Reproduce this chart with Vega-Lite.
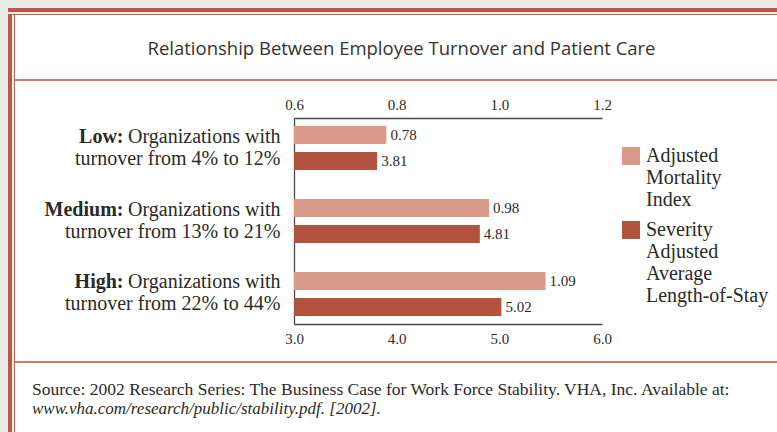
{
  "$schema": "https://vega.github.io/schema/vega-lite/v6.json",
  "background": "white",
  "padding": 0,
  "config": {"view": {"stroke": null}},
  "spacing": 0,
  "vconcat": [
    {"width": 800, "height": 8, "view": {"fill": "#e9e9e7", "stroke": null}, "data": {"values": []}, "mark": "rule", "encoding": {}},
    {
      "spacing": 0,
      "hconcat": [
        {"width": 8, "height": 470, "view": {"fill": "#e9e9e7", "stroke": null}, "data": {"values": []}, "mark": "rule", "encoding": {}},
        {
          "spacing": 0,
          "vconcat": [
            {"width": 800, "height": 4, "view": {"fill": "#b9584a", "stroke": null}, "data": {"values": []}, "mark": "rule", "encoding": {}},
            {"width": 800, "height": 2, "view": {"fill": "#efecea", "stroke": null}, "data": {"values": []}, "mark": "rule", "encoding": {}},
            {"width": 800, "height": 1, "view": {"fill": "#c0604f", "stroke": null}, "data": {"values": []}, "mark": "rule", "encoding": {}},
            {
              "spacing": 0,
              "hconcat": [
                {"width": 4, "height": 460, "view": {"fill": "#b9584a", "stroke": null}, "data": {"values": []}, "mark": "rule", "encoding": {}},
                {"width": 2, "height": 460, "view": {"fill": "#efecea", "stroke": null}, "data": {"values": []}, "mark": "rule", "encoding": {}},
                {"width": 1, "height": 460, "view": {"fill": "#c0604f", "stroke": null}, "data": {"values": []}, "mark": "rule", "encoding": {}},
                {
                  "spacing": 0,
                  "vconcat": [
                    {
                      "width": 773, "height": 64,
                      "view": {"fill": "white", "stroke": null},
                      "data": {"values": [{"title": "Relationship Between Employee Turnover and Patient Care"}]},
                      "mark": {"type": "text", "font": "Open Sans", "fontSize": 18.5, "color": "#333333", "baseline": "middle", "dy": 2},
                      "encoding": {"text": {"field": "title"}}
                    },
                    {"width": 773, "height": 2, "view": {"fill": "#d4786b", "stroke": null}, "data": {"values": []}, "mark": "rule", "encoding": {}},
                    {
                      "width": 773, "height": 280,
                      "view": {"fill": "white", "stroke": null},
                      "data": {"values": [
                        {"group": "Low", "series": "Adjusted Mortality Index", "value": 0.78},
                        {"group": "Low", "series": "Severity Adjusted Average Length-of-Stay", "value": 3.81},
                        {"group": "Medium", "series": "Adjusted Mortality Index", "value": 0.98},
                        {"group": "Medium", "series": "Severity Adjusted Average Length-of-Stay", "value": 4.81},
                        {"group": "High", "series": "Adjusted Mortality Index", "value": 1.09},
                        {"group": "High", "series": "Severity Adjusted Average Length-of-Stay", "value": 5.02}
                      ]},
                      "resolve": {"scale": {"x": "independent"}, "axis": {"x": "independent", "y": "independent"}},
                      "layer": [
                        {
                          "transform": [{"filter": "datum.series === 'Adjusted Mortality Index'"}],
                          "encoding": {
                            "y": {"field": "group", "type": "nominal",
                              "scale": {"domain": ["Low", "Medium", "High"], "range": [37, 243], "paddingInner": 0.397, "paddingOuter": 0.11},
                              "axis": {"orient": "left", "offset": -279, "title": null, "domain": true, "domainColor": "#4a4a4a", "domainWidth": 1.3,
                                "ticks": false, "tickSize": 0, "grid": false, "labelPadding": 14, "labelOffset": -11.5,
                                "labelFont": "Liberation Serif", "labelFontSize": 20, "labelColor": "#2a2a2a", "labelLimit": 0,
                                "labelLineHeight": 22, "labelBaseline": "middle", "labelAlign": "right", "labelOverlap": false,
                                "labelExpr": "datum.value == 'Low' ? ['Organizations with', 'turnover from 4% to 12%'] : datum.value == 'Medium' ? ['Organizations with', 'turnover from 13% to 21%'] : ['Organizations with', 'turnover from 22% to 44%']"}
                            },
                            "yOffset": {"field": "series", "type": "nominal",
                              "scale": {"domain": ["Adjusted Mortality Index", "Severity Adjusted Average Length-of-Stay"], "paddingInner": 0.31, "paddingOuter": 0}},
                            "x": {"field": "value", "type": "quantitative",
                              "scale": {"domain": [0.6, 1.2], "range": [279, 587], "zero": false, "nice": false},
                              "axis": {"orient": "top", "offset": -37, "title": null, "values": [0.6, 0.8, 1.0, 1.2], "format": ".1f",
                                "ticks": false, "tickSize": 0, "labelPadding": 6, "grid": false, "labelFlush": false, "labelOverlap": false,
                                "labelFont": "Liberation Serif", "labelFontSize": 15, "labelColor": "#2a2a2a",
                                "domainColor": "#4a4a4a", "domainWidth": 1.3}
                            }
                          },
                          "layer": [
                            {
                              "mark": {"type": "bar"},
                              "encoding": {
                                "x2": {"datum": 0.6},
                                "color": {"field": "series", "type": "nominal",
                                  "scale": {"domain": ["Adjusted Mortality Index", "Severity Adjusted Average Length-of-Stay"], "range": ["#d99a89", "#b25340"]},
                                  "legend": {"orient": "none", "legendX": 621, "legendY": 146, "title": null, "symbolType": "square", "symbolSize": 324,
                                    "symbolStrokeWidth": 0, "symbolOpacity": 1, "labelFont": "Liberation Serif", "labelFontSize": 20,
                                    "labelColor": "#2a2a2a", "labelLimit": 0, "labelOffset": 5, "labelBaseline": "middle",
                                    "labelExpr": "split(datum.label, ' ')", "rowPadding": 10}
                                }
                              }
                            },
                            {
                              "mark": {"type": "text", "align": "left", "baseline": "middle", "dx": 4, "font": "Liberation Serif", "fontSize": 15, "color": "#2a2a2a"},
                              "encoding": {"text": {"field": "value", "type": "quantitative", "format": ".2f"}}
                            }
                          ]
                        },
                        {
                          "transform": [{"filter": "datum.series === 'Severity Adjusted Average Length-of-Stay'"}],
                          "encoding": {
                            "y": {"field": "group", "type": "nominal",
                              "scale": {"domain": ["Low", "Medium", "High"], "range": [37, 243], "paddingInner": 0.397, "paddingOuter": 0.11},
                              "axis": {"orient": "left", "offset": -279, "title": null, "domain": false,
                                "ticks": false, "tickSize": 0, "grid": false, "labelPadding": 171, "labelOffset": -11.5,
                                "labelFont": "Liberation Serif", "labelFontSize": 20, "labelFontWeight": "bold", "labelColor": "#2a2a2a", "labelLimit": 0,
                                "labelLineHeight": 22, "labelBaseline": "middle", "labelAlign": "right", "labelOverlap": false,
                                "labelExpr": "datum.value + ':'"}
                            },
                            "yOffset": {"field": "series", "type": "nominal",
                              "scale": {"domain": ["Adjusted Mortality Index", "Severity Adjusted Average Length-of-Stay"], "paddingInner": 0.31, "paddingOuter": 0}},
                            "x": {"field": "value", "type": "quantitative",
                              "scale": {"domain": [3, 6], "range": [279, 587], "zero": false, "nice": false},
                              "axis": {"orient": "bottom", "offset": -37, "title": null, "values": [3, 4, 5, 6], "format": ".1f",
                                "ticks": false, "tickSize": 0, "labelPadding": 7, "grid": false, "labelFlush": false, "labelOverlap": false,
                                "labelFont": "Liberation Serif", "labelFontSize": 15, "labelColor": "#2a2a2a",
                                "domainColor": "#4a4a4a", "domainWidth": 1.3}
                            }
                          },
                          "layer": [
                            {
                              "mark": {"type": "bar"},
                              "encoding": {
                                "x2": {"datum": 3},
                                "color": {"field": "series", "type": "nominal",
                                  "scale": {"domain": ["Adjusted Mortality Index", "Severity Adjusted Average Length-of-Stay"], "range": ["#d99a89", "#b25340"]},
                                  "legend": {"orient": "none", "legendX": 621, "legendY": 146, "title": null, "symbolType": "square", "symbolSize": 324,
                                    "symbolStrokeWidth": 0, "symbolOpacity": 1, "labelFont": "Liberation Serif", "labelFontSize": 20,
                                    "labelColor": "#2a2a2a", "labelLimit": 0, "labelOffset": 5, "labelBaseline": "middle",
                                    "labelExpr": "split(datum.label, ' ')", "rowPadding": 10}
                                }
                              }
                            },
                            {
                              "mark": {"type": "text", "align": "left", "baseline": "middle", "dx": 4, "font": "Liberation Serif", "fontSize": 15, "color": "#2a2a2a"},
                              "encoding": {"text": {"field": "value", "type": "quantitative", "format": ".2f"}}
                            }
                          ]
                        }
                      ]
                    },
                    {"width": 773, "height": 2, "view": {"fill": "#d4786b", "stroke": null}, "data": {"values": []}, "mark": "rule", "encoding": {}},
                    {
                      "width": 773, "height": 100,
                      "view": {"fill": "white", "stroke": null},
                      "title": {
                        "text": "Source: 2002 Research Series: The Business Case for Work Force Stability. VHA, Inc.  Available at:",
                        "subtitle": "www.vha.com/research/public/stability.pdf. [2002].",
                        "anchor": "start", "frame": "bounds", "orient": "top", "offset": -54, "dx": 17,
                        "font": "Liberation Serif", "fontSize": 17.5, "fontWeight": "normal", "color": "#2a2a2a",
                        "subtitleFont": "Liberation Serif", "subtitleFontSize": 17, "subtitleFontStyle": "italic", "subtitleColor": "#2a2a2a", "subtitlePadding": 3
                      },
                      "data": {"values": []},
                      "mark": "rule",
                      "encoding": {}
                    }
                  ]
                }
              ]
            }
          ]
        }
      ]
    }
  ]
}
